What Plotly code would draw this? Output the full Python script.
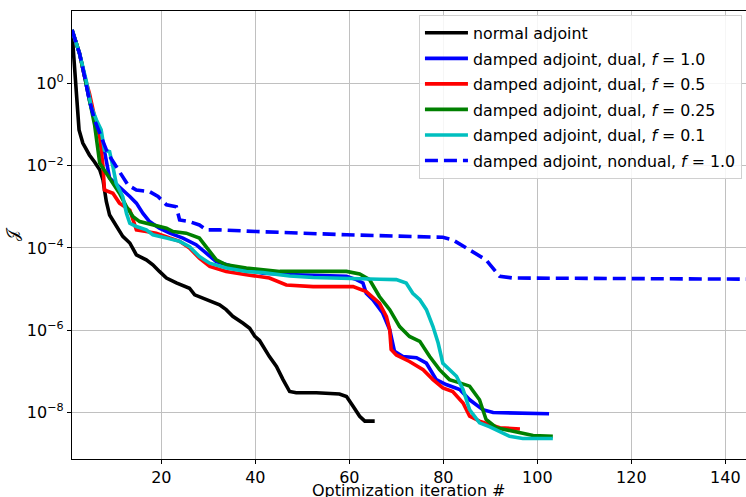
import plotly.graph_objects as go

# ---- data (iteration, objective J) ----
normal_x = [1, 2.5, 3.3, 4.7, 5.8, 6.9, 7.6, 8.3, 9.0, 10.4, 11.8, 13.3, 14.7, 16.8, 18.2, 19.6, 21.1,
            23.2, 25.3, 26.0, 27.1, 28.9, 31.0, 32.4, 33.8, 35.2, 37.4, 38.8, 39.9, 40.9, 43.0, 44.5,
            45.9, 47.3, 48.7, 53.0, 57.9, 59.4, 60.8, 62.2, 63.3, 65.4]
normal_y = [17.8, 0.0741, 0.0355, 0.0182, 0.0123, 0.00794, 0.00447, 0.00135, 6.31e-4, 3.31e-4, 1.91e-4,
            1.32e-4, 6.76e-5, 5.13e-5, 3.89e-5, 2.69e-5, 1.86e-5, 1.41e-5, 1.15e-5, 1.05e-5, 7.24e-6,
            6.03e-6, 5.01e-6, 4.17e-6, 3.16e-6, 2.19e-6, 1.48e-6, 1.12e-6, 7.08e-7, 5.62e-7, 2.29e-7,
            1.32e-7, 6.31e-8, 3.24e-8, 3.02e-8, 3.02e-8, 2.82e-8, 2.45e-8, 1.41e-8, 8.13e-9, 6.17e-9, 6.17e-9]

d10_x = [1, 2.6, 3.7, 4.7, 5.8, 6.9, 7.6, 9.0, 11.1, 13.3, 14.7, 16.1, 17.5, 19.6, 21.8, 24.6, 27.4,
         29.6, 31.7, 35.2, 38.8, 41.6, 48.7, 59.4, 61.5, 62.9, 63.6, 65.0, 67.1, 68.6, 69.6, 71.4, 74.3,
         76.4, 78.5, 80.6, 83.5, 85.6, 88.4, 90.6, 102.5]
d10_y = [20, 5.37, 1.45, 0.389, 0.129, 0.0617, 0.0347, 0.005, 0.00309, 0.00178, 0.00123, 6.92e-4, 4.37e-4,
         3.02e-4, 2.29e-4, 1.74e-4, 1.20e-4, 7.41e-5, 4.68e-5, 3.55e-5, 2.95e-5, 2.45e-5, 2.24e-5,
         2.04e-5, 1.70e-5, 1.41e-5, 7.94e-6, 5.50e-6, 2.63e-6, 1.02e-6, 3.09e-7, 2.29e-7, 2.14e-7,
         1.58e-7, 6.31e-8, 4.79e-8, 3.63e-8, 2.04e-8, 1.17e-8, 1.0e-8, 9.33e-9]

d05_x = [1, 2.6, 3.7, 4.7, 5.8, 6.9, 7.6, 7.9, 9.7, 11.1, 13.3, 14.7, 16.8, 18.9, 21.8, 23.9, 26.0, 28.1,
         30.3, 33.8, 38.1, 43.0, 46.6, 52.3, 60.8, 63.6, 66.4, 67.9, 68.6, 68.9, 70.0, 72.8, 75.7, 77.8,
         79.9, 82.0, 84.2, 85.6, 87.7, 92.0, 96.3]
d05_y = [20, 5.37, 1.45, 0.575, 0.155, 0.0501, 0.00955, 0.00257, 0.00214, 0.00123, 8.32e-4, 2.75e-4,
         2.51e-4, 2.29e-4, 1.74e-4, 1.45e-4, 1.0e-4, 5.62e-5, 3.55e-5, 2.69e-5, 2.24e-5, 1.86e-5,
         1.26e-5, 1.15e-5, 1.15e-5, 8.71e-6, 4.57e-6, 2.14e-6, 1.02e-6, 3.39e-7, 2.51e-7, 1.74e-7,
         1.10e-7, 6.31e-8, 3.98e-8, 3.24e-8, 1.70e-8, 8.13e-9, 6.17e-9, 4.27e-9, 3.98e-9]

d025_x = [1, 2.6, 3.7, 4.7, 5.8, 6.9, 8.3, 9.7, 11.1, 12.6, 14.0, 15.4, 18.2, 21.1, 22.5, 25.3, 28.1,
          29.6, 31.7, 33.8, 38.1, 45.2, 59.4, 62.2, 64.3, 66.4, 68.6, 70.7, 72.8, 75.0, 77.1, 79.2,
          81.3, 83.5, 85.6, 87.7, 89.1, 91.3, 94.8, 99.1, 103.3]
d025_y = [20, 5.37, 1.45, 0.389, 0.1, 0.0115, 0.00661, 0.00372, 0.00214, 0.001, 5.75e-4, 4.37e-4,
          3.63e-4, 3.02e-4, 2.51e-4, 2.29e-4, 1.74e-4, 1.07e-4, 5.13e-5, 3.89e-5, 3.24e-5, 2.69e-5,
          2.69e-5, 2.34e-5, 1.70e-5, 6.61e-6, 3.16e-6, 1.23e-6, 7.08e-7, 5.37e-7, 2.29e-7, 1.10e-7,
          6.31e-8, 5.25e-8, 4.37e-8, 2.04e-8, 6.76e-9, 4.27e-9, 3.47e-9, 2.75e-9, 2.63e-9]

d01_x = [1, 2.6, 4.0, 5.1, 6.2, 7.2, 7.9, 9.0, 9.7, 10.4, 11.8, 12.6, 13.3, 14.7, 16.8, 18.2, 21.1,
         23.9, 26.0, 28.1, 30.3, 33.8, 38.1, 41.6, 47.3, 52.3, 66.4, 70.0, 72.1, 73.5, 75.0, 76.4, 77.8,
         78.9, 79.9, 81.3, 82.8, 84.2, 85.6, 87.7, 89.9, 94.1, 96.9, 103.3]
d01_y = [20, 5.37, 1.20, 0.269, 0.129, 0.0741, 0.024, 0.0219, 0.00955, 0.00372, 0.00178, 6.92e-4,
         3.98e-4, 3.31e-4, 2.75e-4, 2.09e-4, 1.74e-4, 1.45e-4, 1.07e-4, 6.17e-5, 4.27e-5, 3.24e-5,
         2.69e-5, 2.51e-5, 2.09e-5, 1.91e-5, 1.74e-5, 1.70e-5, 1.41e-5, 7.94e-6, 5.50e-6, 3.16e-6,
         1.23e-6, 4.90e-7, 1.58e-7, 1.10e-7, 7.59e-8, 3.63e-8, 1.17e-8, 5.62e-9, 4.47e-9, 2.63e-9,
         2.34e-9, 2.34e-9]

nd_x = [1, 2.6, 3.7, 4.7, 5.8, 6.9, 7.6, 8.6, 10.4, 11.5, 12.9, 14.7, 17.5, 19.3, 21.1, 23.2, 23.9,
        26.0, 28.1, 29.6, 32.4, 40.2, 48.0, 50.1, 59.4, 79.9, 82.0, 84.9, 89.1, 92.0, 94.8, 146]
nd_y = [20, 5.37, 1.45, 0.389, 0.129, 0.0617, 0.0347, 0.02, 0.00955, 0.00589, 0.00339, 0.00257,
        0.00234, 0.00178, 0.00112, 0.001, 4.79e-4, 4.37e-4, 3.63e-4, 2.75e-4, 2.75e-4, 2.51e-4,
        2.40e-4, 2.29e-4, 2.09e-4, 1.82e-4, 1.58e-4, 1.0e-4, 5.13e-5, 2.04e-5, 1.86e-5, 1.74e-5]

series = [
    ("normal adjoint", normal_x, normal_y, "#000000", "solid"),
    ("damped adjoint, dual, <i>f</i> = 1.0", d10_x, d10_y, "#0000ff", "solid"),
    ("damped adjoint, dual, <i>f</i> = 0.5", d05_x, d05_y, "#ff0000", "solid"),
    ("damped adjoint, dual, <i>f</i> = 0.25", d025_x, d025_y, "#008000", "solid"),
    ("damped adjoint, dual, <i>f</i> = 0.1", d01_x, d01_y, "#00bfbf", "solid"),
    ("damped adjoint, nondual, <i>f</i> = 1.0", nd_x, nd_y, "#0000ff", "13px,6px"),
]

x_ticks = [20, 40, 60, 80, 100, 120, 140]
y_ticks = [1e0, 1e-2, 1e-4, 1e-6, 1e-8]
y_ticktext = ["10<sup>0</sup>", "10<sup>−2</sup>", "10<sup>−4</sup>", "10<sup>−6</sup>", "10<sup>−8</sup>"]

fig = go.Figure()
for i, (name, xs, ys, col, dash) in enumerate(series):
    fig.add_trace(go.Scatter(x=xs, y=ys, mode="lines", name=name, legendgroup=str(i),
                             line=dict(color=col, width=3.6, dash=dash)))

font = "DejaVu Sans, Arial, sans-serif"
fig.update_layout(
    width=746, height=497,
    margin=dict(l=72, r=0, t=11, b=38),
    paper_bgcolor="white", plot_bgcolor="white",
    font=dict(family=font, size=16, color="black"),
    showlegend=True,
    legend=dict(x=0.994, y=0.991, xanchor="right", yanchor="top",
                bgcolor="rgba(255,255,255,0.85)", bordercolor="#d0d0d0", borderwidth=1,
                font=dict(size=15.8), tracegroupgap=2, itemwidth=43),
    annotations=[dict(text="Optimization iteration #", xref="paper", yref="paper",
                      x=0.5, y=-0.07, xanchor="center", yanchor="middle", showarrow=False,
                      font=dict(size=16))],
)
fig.update_xaxes(range=[1, 144.4], tickvals=x_ticks, showgrid=True, gridcolor="#c0c0c0", gridwidth=1,
                 showline=True, linecolor="black", linewidth=1.2, mirror=True,
                 ticks="outside", ticklen=4, tickcolor="black", zeroline=False, automargin=False)
fig.update_yaxes(type="log", range=[-9.13, 1.76], tickvals=y_ticks, ticktext=y_ticktext,
                 showgrid=True, gridcolor="#c0c0c0", gridwidth=1,
                 showline=True, linecolor="black", linewidth=1.2, mirror=True,
                 ticks="outside", ticklen=4, tickcolor="black", zeroline=False,
                 title=dict(text="𝒥", standoff=4, font=dict(size=16)), automargin=False)

fig.write_html("out.html")
